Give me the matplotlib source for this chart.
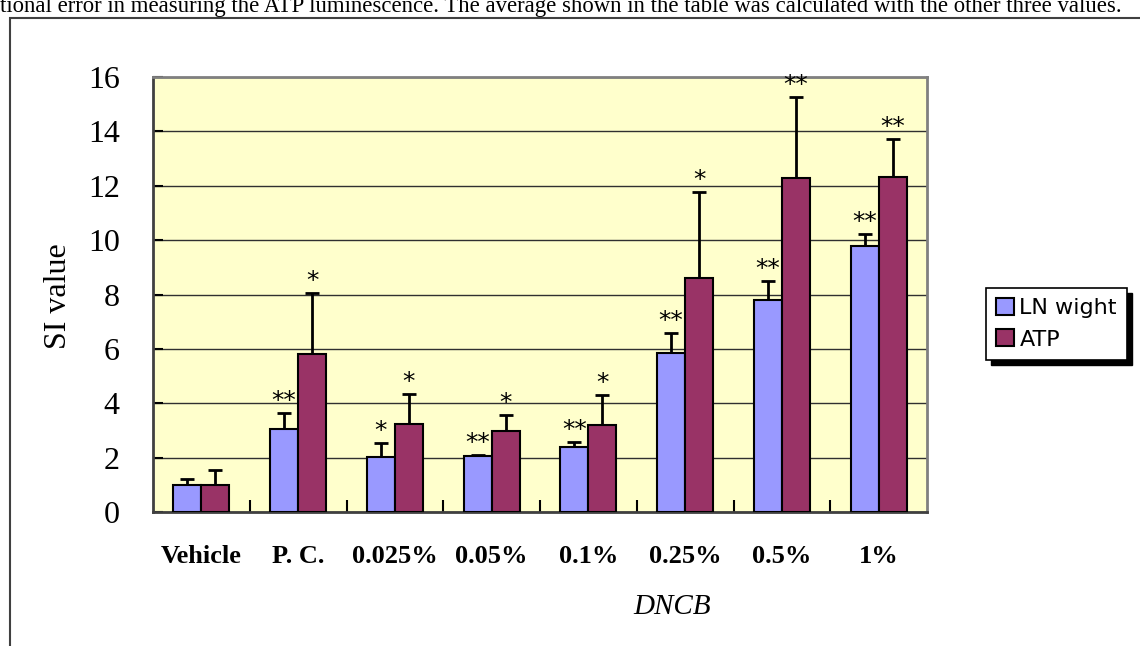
import matplotlib
matplotlib.use('Agg')
from matplotlib import pyplot as plt
from matplotlib.patches import Rectangle
import numpy as np

# data
groups = ['Vehicle', 'P. C.', '0.025%', '0.05%', '0.1%', '0.25%', '0.5%', '1%']
ln_mean = [1.0, 3.05, 2.02, 2.05, 2.39, 5.85, 7.8, 9.78]
ln_err = [0.21, 0.59, 0.52, 0.05, 0.18, 0.73, 0.69, 0.44]
atp_mean = [1.0, 5.81, 3.23, 2.98, 3.2, 8.6, 12.3, 12.32]
atp_err = [0.54, 2.24, 1.11, 0.59, 1.1, 3.16, 2.96, 1.39]
ln_marks = ['', '**', '*', '**', '**', '**', '**', '**']
atp_marks = ['', '*', '*', '*', '*', '*', '**', '**']

W, H = 1140, 646
fig = plt.figure(figsize=(W / 100, H / 100), dpi=100)

# caption line at the very top (cropped in the original page)
fig.text(0.0, 1 - 12 / H,
         'tional error in measuring the ATP luminescence. The average shown in the table '
         'was calculated with the other three values.',
         family='Liberation Serif', fontsize=16.4, ha='left', va='baseline')

# outer frame of the embedded chart
fig.patches.append(Rectangle((10 / W, -0.1), 1.2, 1 - 18 / H + 0.1, transform=fig.transFigure,
                             fill=False, edgecolor='#404040', lw=1.5))

ax = fig.add_axes([153 / W, 134 / H, 774 / W, 435 / H])
ax.set_facecolor('#FFFFCC')

x = np.arange(len(groups))
bw = 0.29
b1 = ax.bar(x - bw / 2, ln_mean, bw, color='#9999FF', edgecolor='black', lw=1.5,
            label='LN wight', zorder=3)
b2 = ax.bar(x + bw / 2, atp_mean, bw, color='#993366', edgecolor='black', lw=1.5,
            label='ATP', zorder=3)
ax.errorbar(x - bw / 2, ln_mean, yerr=[np.zeros(len(x)), ln_err], fmt='none',
            ecolor='black', elinewidth=2, capsize=4.7, capthick=2, zorder=2)
ax.errorbar(x + bw / 2, atp_mean, yerr=[np.zeros(len(x)), atp_err], fmt='none',
            ecolor='black', elinewidth=2, capsize=4.7, capthick=2, zorder=2)

# significance stars
for i in range(len(x)):
    if ln_marks[i]:
        ax.annotate(ln_marks[i], (x[i] - bw / 2, ln_mean[i] + ln_err[i]), xytext=(0, 0),
                    textcoords='offset points', ha='center', va='bottom',
                    fontsize=18, family='DejaVu Sans', zorder=4)
    if atp_marks[i]:
        ax.annotate(atp_marks[i], (x[i] + bw / 2, atp_mean[i] + atp_err[i]), xytext=(0, 0),
                    textcoords='offset points', ha='center', va='bottom',
                    fontsize=18, family='DejaVu Sans', zorder=4)

ax.set_xlim(-0.5, len(groups) - 0.5)
ax.set_ylim(0, 16)
ax.set_yticks(range(0, 17, 2))
ax.tick_params(axis='y', direction='in', length=7, width=1.5, pad=24, labelsize=23)
for lab in ax.get_yticklabels():
    lab.set_family('Liberation Serif')
ax.set_xticks(x)
ax.set_xticklabels(groups, family='Liberation Serif', fontweight='bold', fontsize=19)
ax.tick_params(axis='x', which='major', length=0, pad=24)
ax.set_xticks(np.arange(0.5, len(groups) - 1, 1), minor=True)
ax.tick_params(axis='x', which='minor', direction='in', length=9, width=1.5)

ax.yaxis.grid(True, color='#303030', lw=1, zorder=0)
ax.set_axisbelow(True)

for s in ['left', 'bottom']:
    ax.spines[s].set_color('#404040')
    ax.spines[s].set_linewidth(2)
for s in ['top', 'right']:
    ax.spines[s].set_color('#808080')
    ax.spines[s].set_linewidth(2)

fig.text(58 / W, 1 - 296 / H, 'SI value', rotation=90, family='Liberation Serif',
         fontsize=23, ha='center', va='center')
fig.text(672 / W, 1 - 607 / H, 'DNCB', family='Liberation Serif', style='italic',
         fontsize=21, ha='center', va='center')

leg = fig.legend(handles=[b1, b2], loc='upper left',
                 bbox_to_anchor=(986 / W, 1 - 288 / H), borderaxespad=0,
                 frameon=True, fancybox=False,
                 edgecolor='black', framealpha=1, handlelength=0.8, handleheight=0.8,
                 handletextpad=0.25, borderpad=0.45, labelspacing=0.5,
                 prop={'family': 'DejaVu Sans', 'size': 16})
leg.get_frame().set_linewidth(1.2)

# black drop shadow behind the legend
fig.canvas.draw()
bb = leg.get_window_extent().transformed(fig.transFigure.inverted())
fig.patches.append(Rectangle((bb.x0 + 5 / W, bb.y0 - 5 / H), bb.width, bb.height,
                             transform=fig.transFigure, color='black', zorder=-1))
leg.set_zorder(5)

fig.savefig('out.png', dpi=100)
